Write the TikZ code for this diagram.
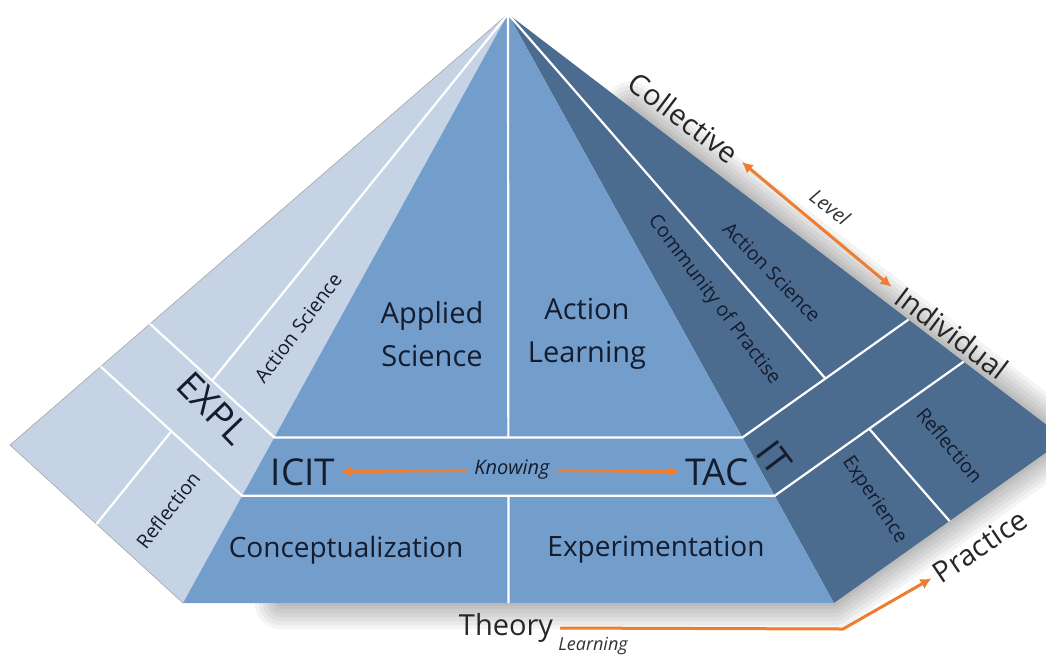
\documentclass[tikz,border=0pt]{standalone}
\usepackage{fontspec}
\setmainfont{Open Sans}
\usetikzlibrary{calc, arrows.meta}

\definecolor{leftface}{RGB}{198,211,229}
\definecolor{frontface}{RGB}{115,158,204}
\definecolor{rightface}{RGB}{75,107,143}
\definecolor{inkblue}{RGB}{20,28,46}
\definecolor{arroworange}{RGB}{237,125,49}

\tikzset{
  seam/.style={white, line width=2.2pt},
  biglabel/.style={text=inkblue, font=\fontsize{29}{43}\selectfont, align=center},
  codelabel/.style={text=inkblue, font=\fontsize{37}{40}\selectfont, inner sep=1pt},
  striplabel/.style={text=inkblue, font=\fontsize{19.5}{22}\selectfont},
  axislabel/.style={text=black!85, font=\fontsize{29}{30}\selectfont, inner sep=1pt},
  axisnote/.style={text=black!80, font=\itshape\fontsize{20}{22}\selectfont},
  orarrow/.style={arroworange, line width=3pt, -{Latex[length=11pt,width=11pt]}},
}

\def\fa{0.719}
\def\fb{0.818}

\begin{document}
\begin{tikzpicture}[x=1pt, y=-1pt]
\useasboundingbox (0,0) rectangle (1046,657);

% corners of the pyramid
\coordinate (A) at (508,14);
\coordinate (FL) at (183,603);
\coordinate (FR) at (834,603);
\coordinate (LT) at (10,445);
\coordinate (RT) at (1065,439);
\coordinate (ML) at ($(LT)!0.5!(FL)$);
\coordinate (MF) at ($(FL)!0.5!(FR)$);
\coordinate (MR) at ($(FR)!0.5!(RT)$);

% soft shadow, bottom and right only
\begin{scope}[shift={(6,8)}]
\foreach \w in {52,44,36,28,20,12,6}
  \draw[line width=\w pt, black, opacity=0.045, line join=round, line cap=round]
    ($(FL)!0.15!(FR)$) -- (FR) -- (RT) -- ($(A)!0.22!(RT)$);
\end{scope}

% faces
\fill[leftface] (A) -- (LT) -- (FL) -- cycle;
\draw[black!35, line width=0.6pt] (A) -- (LT) -- (FL);
\fill[rightface] (A) -- (FR) -- (RT) -- cycle;
\fill[frontface] (A) -- (FL) -- (FR) -- cycle;

% seams on the front face
\draw[seam] ($(A)!\fa!(LT)$) -- ($(A)!\fa!(FL)$) -- ($(A)!\fa!(FR)$) -- ($(A)!\fa!(RT)$);
\draw[seam] ($(A)!\fb!(LT)$) -- ($(A)!\fb!(FL)$) -- ($(A)!\fb!(FR)$) -- ($(A)!\fb!(RT)$);
\draw[seam] (A) -- ($(A)!\fa!(MF)$);
\draw[seam] ($(A)!\fb!(MF)$) -- (MF);
% seams on the side faces
\draw[seam] (A) -- ($(A)!\fa!(ML)$);
\draw[seam] ($(A)!\fb!(ML)$) -- (ML);
\draw[seam] (A) -- ($(A)!\fa!(MR)$);
\draw[seam] ($(A)!\fb!(MR)$) -- (MR);

% front labels
\node[biglabel] (applied) at (432,334) {Applied\\Science};
\node[biglabel] (actlearn) at (587,334) {Action\\Learning};
\node[codelabel] (icit) at (303,472) {ICIT};
\node[codelabel] (tac) at (717,472) {TAC};
\node[axisnote, text=inkblue] (know) at (512,470) {Knowing};
\node[biglabel, font=\fontsize{28}{30}\selectfont] (concept) at (346,550) {Conceptualization};
\node[biglabel, font=\fontsize{28}{30}\selectfont] (experim) at (656,550) {Experimentation};

% left face labels
\node[codelabel, rotate=-46] (expl) at (213,408) {EXPL};
\node[striplabel, rotate=53] (lscience) at (298,328) {Action Science};
\node[striplabel, rotate=52] (lreflect) at (168,510) {Reflection};

% right face labels
\node[codelabel, rotate=-53] (it) at (774,458) {IT};
\node[striplabel, rotate=-46] (rscience) at (772,272) {Action Science};
\node[striplabel, rotate=-53] (commun) at (714,300) {Community of Practise};
\node[striplabel, rotate=-50] (rreflect) at (950,445) {Reflection};
\node[striplabel, rotate=-56] (experi) at (874,500) {Experience};

% outer axes
\node[axislabel, rotate=-37] (coll) at (684,118) {Collective};
\node[axislabel, rotate=-37] (indiv) at (952,333) {Individual};
\node[axisnote, rotate=-37] (level) at (830,207) {Level};
\node[axislabel] (theory) at (506,628) {Theory};
\node[axisnote, font=\itshape\fontsize{18}{20}\selectfont, inner sep=1pt] (learn) at (593,646) {Learning};
\node[axislabel, rotate=34] (practice) at (980,546) {Practice};
\coordinate (bend) at (843,629);

% arrows
\draw[orarrow, shorten >=4pt, shorten <=4pt] (know) -- (icit);
\draw[orarrow, shorten >=4pt, shorten <=4pt] (know) -- (tac);
\draw[orarrow, {Latex[length=11pt,width=11pt]}-{Latex[length=11pt,width=11pt]}, shorten >=9pt, shorten <=7pt] (coll.east) -- (indiv.west);
\draw[orarrow, shorten <=6pt, shorten >=4pt] (theory.east) -- (bend) -- (practice.west);
\end{tikzpicture}
\end{document}
